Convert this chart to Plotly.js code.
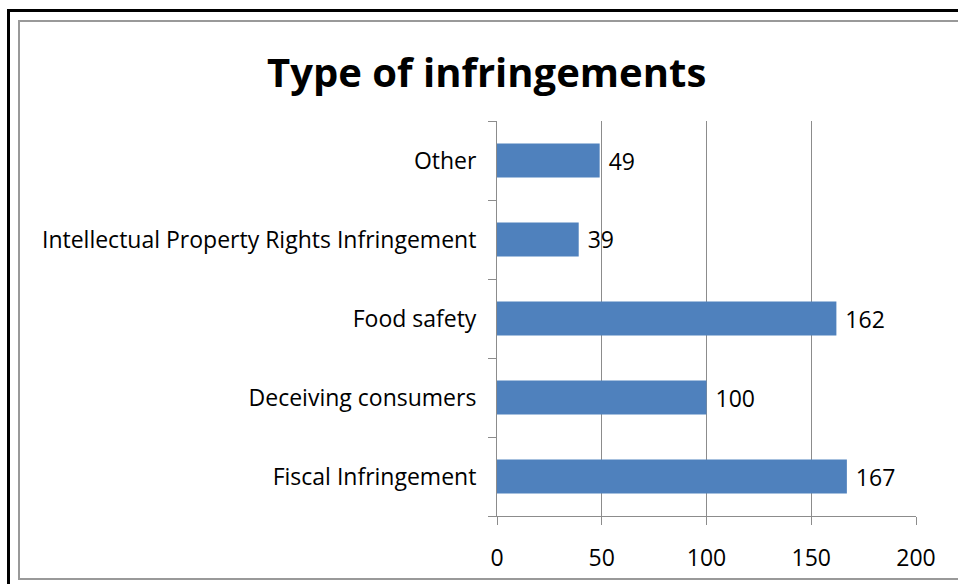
<!DOCTYPE html>
<html>
<head>
<meta charset="utf-8">
<script src="https://cdn.plot.ly/plotly-3.0.1.min.js"></script>
<style>
  body { margin: 0; background: #fff; }
  #frame-outer { position: absolute; left: 7px; top: 9px; width: 980px; height: 600px;
    border-left: 3px solid #000; border-top: 3px solid #000; }
  #frame-inner { position: absolute; left: 18px; top: 20px; width: 980px; height: 556px;
    border-left: 2px solid #999; border-top: 2px solid #999; border-bottom: 2px solid #999; }
  #plot { position: absolute; left: 0; top: 0; width: 958px; height: 584px; }
</style>
</head>
<body>
<div id="frame-outer"></div>
<div id="frame-inner"></div>
<div id="plot"></div>
<script>
// 类别（从下往上）
const categories = [
    'Fiscal Infringement',
    'Deceiving consumers',
    'Food safety',
    'Intellectual Property Rights Infringement',
    'Other'
];
const counts = [167, 100, 162, 39, 49];
const xTicks = [0, 50, 100, 150, 200];

const font = '"Open Sans", "DejaVu Sans", sans-serif';

function initPlot() {
    const trace = {
        type: 'bar',
        orientation: 'h',
        y: categories,
        x: counts,
        // 前面加一个空格，让数字离柱子远一点
        text: counts.map(v => ' ' + v),
        textposition: 'outside',
        cliponaxis: false,
        textfont: { family: font, size: 23, color: '#000' },
        marker: { color: '#4F81BD' },
        hoverinfo: 'x+y'
    };

    const layout = {
        width: 958,
        height: 584,
        paper_bgcolor: 'rgba(0,0,0,0)',
        plot_bgcolor: 'rgba(0,0,0,0)',
        margin: { l: 497, r: 42, t: 121, b: 68 },
        title: {
            text: '<b>Type of infringements</b>',
            font: { family: font, size: 40, color: '#000' },
            x: 0.508,
            xanchor: 'center',
            y: 0.875,
            yanchor: 'middle'
        },
        bargap: 0.57,
        showlegend: false,
        xaxis: {
            range: [0, 200],
            tickvals: xTicks,
            showgrid: true,
            gridcolor: '#8c8c8c',
            gridwidth: 1,
            zeroline: false,
            showline: true,
            linecolor: '#8c8c8c',
            ticks: 'outside',
            ticklen: 8,
            tickcolor: '#8c8c8c',
            ticklabelstandoff: 13,
            tickfont: { family: font, size: 23, color: '#000' },
            fixedrange: true
        },
        yaxis: {
            type: 'category',
            categoryorder: 'array',
            categoryarray: categories,
            tickson: 'boundaries',
            ticks: 'outside',
            ticklen: 8,
            tickcolor: '#8c8c8c',
            showline: true,
            linecolor: '#8c8c8c',
            showgrid: false,
            ticklabelstandoff: 15,
            tickfont: { family: font, size: 23, color: '#000' },
            fixedrange: true
        }
    };

    Plotly.newPlot('plot', [trace], layout, { displayModeBar: false, staticPlot: true });
}

document.addEventListener('DOMContentLoaded', initPlot);
</script>
</body>
</html>
